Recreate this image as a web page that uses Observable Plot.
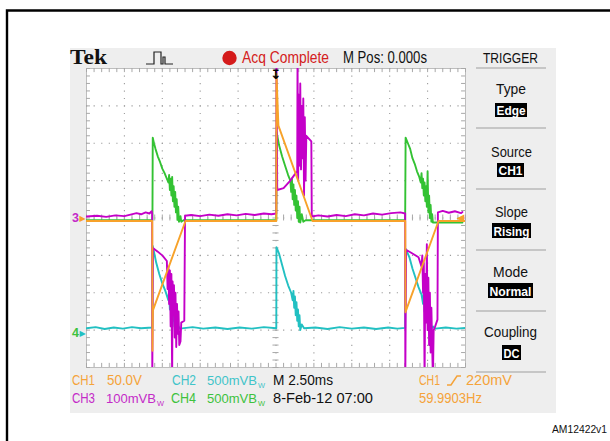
<!DOCTYPE html>
<html>
<head>
<meta charset="utf-8">
<script src="https://cdn.jsdelivr.net/npm/d3@7"></script>
<script src="https://cdn.jsdelivr.net/npm/@observablehq/plot@0.6"></script>
<style>
  html, body { margin: 0; padding: 0; background: white; }
  #c { position: relative; width: 610px; height: 441px; overflow: hidden; background: white; }
</style>
</head>
<body>
<div id="c"></div>
<script>
// ---- Data: time in ms (2.50 ms/div, trigger at 0), value in screen divisions ----
const ch1 = [ // orange
  [-12.5,-0.08],[-8.16,-0.08],[-8.15,-3.55],[-8.12,-2.47],[-5.97,-0.08],[0.02,-0.08],
  [0.03,3.86],[0.16,2.47],[2.41,-0.08],[8.53,-0.08],[8.54,-2.52],[10.72,-0.08],[12.5,-0.08]
];
const ch2 = [ // cyan
  [-12.5,-2.95],[-11.9,-2.92],[-11.3,-2.97],[-10.7,-2.93],[-10.1,-2.96],[-9.5,-2.92],[-8.9,-2.95],[-8.16,-2.93],
  [-8.13,-0.75],[-8.05,-0.9],[-7.9,-1.2],[-7.7,-1.5],[-7.5,-1.75],[-7.3,-1.95],[-7.1,-2.2],[-7.05,-1.95],
  [-7.0,-2.45],[-6.95,-2.1],[-6.9,-2.6],[-6.85,-2.25],[-6.8,-2.75],[-6.75,-2.4],[-6.7,-2.9],[-6.65,-2.55],
  [-6.6,-3.0],[-6.5,-2.85],[-6.35,-2.96],[-5.5,-2.92],[-4.8,-2.96],[-4.0,-2.93],[-3.2,-2.97],[-2.4,-2.93],
  [-1.6,-2.96],[-0.8,-2.92],[0.02,-2.95],
  [0.03,-0.78],[0.2,-0.95],[0.4,-1.25],[0.6,-1.55],[0.8,-1.8],[1.0,-2.0],[1.1,-2.2],[1.15,-1.95],
  [1.2,-2.4],[1.25,-2.1],[1.3,-2.6],[1.35,-2.25],[1.4,-2.75],[1.45,-2.45],[1.5,-2.9],[1.55,-2.6],
  [1.6,-3.0],[1.7,-2.85],[1.85,-2.95],[2.6,-2.93],[3.4,-2.97],[4.2,-2.92],[5.0,-2.96],[5.8,-2.93],
  [6.6,-2.97],[7.4,-2.93],[8.0,-2.96],[8.52,-2.94],
  [8.55,-0.82],[8.8,-1.05],[9.0,-1.35],[9.2,-1.6],[9.4,-1.85],[9.6,-2.05],[9.7,-2.3],[9.75,-2.0],
  [9.8,-2.5],[9.85,-2.2],[9.9,-2.65],[9.95,-2.35],[10.0,-2.8],[10.05,-2.5],[10.1,-2.95],[10.15,-2.65],
  [10.2,-3.0],[10.35,-2.9],[10.5,-2.96],[11.2,-2.93],[11.9,-2.96],[12.5,-2.94]
];
const ch3 = [ // magenta
  [-12.5,0.04],[-11.8,0.06],[-11.2,0.03],[-10.6,0.07],[-10.0,0.05],[-9.6,0.09],[-9.2,0.13],[-8.9,0.1],
  [-8.6,0.15],[-8.35,0.12],[-8.2,0.18],[-8.17,0.12],
  [-8.16,-4.3],[-8.12,-0.8],[-7.8,-0.9],[-7.5,-1.0],[-7.2,-1.15],
  [-7.15,-1.9],[-7.1,-1.3],[-7.05,-2.3],[-7.0,-1.4],[-6.95,-2.9],[-6.9,-1.5],[-6.85,-4.3],[-6.82,-1.7],
  [-6.78,-2.6],[-6.73,-1.8],[-6.68,-3.2],[-6.63,-2.0],[-6.58,-3.45],[-6.53,-2.3],[-6.48,-3.1],[-6.43,-2.5],
  [-6.38,-3.4],[-6.3,-3.3],[-6.25,-2.8],[-6.05,-2.75],[-6.0,0.06],
  [-5.6,0.08],[-5.0,0.05],[-4.4,0.09],[-3.8,0.06],[-3.2,0.1],[-2.6,0.07],[-2.0,0.11],[-1.4,0.08],
  [-0.8,0.12],[-0.3,0.1],[0.02,0.12],
  [0.03,4.3],[0.08,0.75],[0.5,0.8],[0.9,0.98],[1.3,1.2],[1.4,1.25],
  [1.42,4.3],[1.46,1.0],[1.5,3.3],[1.55,1.4],[1.6,3.6],[1.65,1.3],[1.7,3.0],[1.75,1.6],[1.8,3.2],
  [1.85,0.6],[1.9,2.7],[1.95,1.0],[2.0,2.2],[2.33,2.05],[2.36,0.04],
  [2.8,0.07],[3.4,0.04],[4.0,0.08],[4.6,0.05],[5.2,0.1],[5.8,0.07],[6.4,0.12],[7.0,0.09],[7.6,0.13],
  [8.2,0.15],[8.52,0.12],
  [8.53,-4.3],[8.58,-0.85],[9.0,-0.95],[9.4,-1.05],[9.6,-1.3],
  [9.65,-1.0],[9.7,-2.0],[9.75,-1.2],[9.8,-4.3],[9.85,-1.5],[9.9,-2.8],[9.95,-0.7],[10.0,-3.0],
  [10.05,-1.6],[10.1,-3.4],[10.15,-2.0],[10.2,-3.6],[10.25,-2.4],[10.3,-3.4],[10.35,-4.3],[10.4,-3.0],
  [10.5,-2.9],[10.65,-2.72],[10.68,0.15],[11.0,0.19],[11.4,0.14],[11.8,0.18],[12.2,0.13],[12.3,0.16]
];
const ch4 = [ // green
  [-12.5,-0.06],[-8.15,-0.06],[-8.13,2.15],[-8.05,2.0],[-7.95,1.85],[-7.8,1.65],[-7.65,1.5],[-7.5,1.32],
  [-7.35,1.2],[-7.2,1.05],[-7.1,0.95],[-7.05,1.15],[-7.0,0.75],[-6.95,1.05],[-6.9,0.6],[-6.85,1.1],
  [-6.8,0.45],[-6.75,0.85],[-6.7,0.3],[-6.65,0.7],[-6.6,0.15],[-6.55,0.5],[-6.5,-0.05],[-6.45,0.3],
  [-6.4,-0.1],[-6.3,0.05],[-6.25,-0.1],[-6.1,-0.06],[0.02,-0.06],
  [0.04,2.3],[0.2,1.95],[0.4,1.65],[0.6,1.4],[0.8,1.15],[0.95,1.0],[1.0,0.7],[1.05,1.05],[1.1,0.5],
  [1.15,0.9],[1.2,0.35],[1.25,0.75],[1.3,0.2],[1.35,0.6],[1.4,0.0],[1.45,0.45],[1.5,-0.1],[1.55,0.3],
  [1.6,-0.12],[1.7,0.1],[1.8,-0.1],[1.95,-0.06],[8.52,-0.06],
  [8.55,2.15],[8.7,2.0],[8.85,1.85],[9.0,1.6],[9.15,1.45],[9.3,1.25],[9.45,1.1],[9.55,0.95],[9.6,1.2],
  [9.65,0.8],[9.7,1.05],[9.75,0.6],[9.8,0.95],[9.85,0.45],[9.9,0.85],[9.95,0.3],[10.0,1.25],[10.05,0.15],
  [10.1,0.6],[10.15,0.0],[10.2,0.35],[10.25,-0.1],[10.3,0.1],[10.35,-0.12],[12.3,-0.12]
];
const groundCh3 = 0;      // "3" marker level (div)
const groundCh4 = -3.08;  // "4" marker level (div)
const triggerLevel = 0;   // CH1 trigger level marker (div)
const triggerPos = 0;     // trigger time (ms)

const C = {
  orange: "#f7a22a", cyan: "#22c0c2", magenta: "#c400c8", green: "#33c233",
  tOrange: "#f5a33a", tCyan: "#3fc4c9", tMagenta: "#c42ac8", tGreen: "#3dc23d"
};

const rows = a => a.map(([t, v]) => ({t, v}));
const container = document.getElementById("c");

// ---------- decoration (screen bezel, labels) ----------
const deco = d3.create("svg").attr("width", 610).attr("height", 441)
  .style("position", "absolute").style("left", "0px").style("top", "0px");
deco.append("path").attr("d", "M7,441V10.5H610").attr("fill", "none").attr("stroke", "black").attr("stroke-width", 2.4);
deco.append("rect").attr("x", 70).attr("y", 48).attr("width", 486).attr("height", 365).attr("fill", "#eeeeee");

const SANS = "'Liberation Sans', Arial, sans-serif";
function txt(s, x, y, w, size, color, extra = {}) {
  const t = deco.append("text").attr("x", x).attr("y", y).text(s)
    .attr("font-family", extra.family || SANS).attr("font-size", size).attr("fill", color);
  if (w) t.attr("textLength", w).attr("lengthAdjust", "spacingAndGlyphs");
  if (extra.weight) t.attr("font-weight", extra.weight);
  return t;
}
// value with bandwidth-limit symbol (B with subscript W)
function bwTxt(s, x, y, w, color) {
  txt(s + "B", x, y, w - 8, 13, color);
  txt("W", x + w - 7, y + 3, 7, 8, color);
}
// header
txt("Tek", 70, 64, 37, 20, "#111", {family: "'Liberation Serif', 'DejaVu Serif', serif", weight: "bold"});
deco.append("path").attr("d", "M146,64H154V52H161V64H163V57H165V64H173").attr("fill", "none").attr("stroke", "#222").attr("stroke-width", 1.2);
deco.append("circle").attr("cx", 229.5).attr("cy", 58).attr("r", 7.2).attr("fill", "#d41a1a");
txt("Acq Complete", 242, 63, 87, 15.6, "#d42020");
txt("M Pos: 0.000s", 343, 63, 84, 15.6, "#111");

// trigger side panel
txt("TRIGGER", 483, 63, 55, 14.5, "#111");
[68, 128, 189, 250, 311, 372].forEach(y =>
  deco.append("line").attr("x1", 476).attr("x2", 546).attr("y1", y).attr("y2", y).attr("stroke", "#b9b9b9").attr("stroke-width", 1.6));
const panel = [
  ["Type", 496, 94, 30, "Edge", 495, 103, 32, 14],
  ["Source", 491, 156.5, 41, "CH1", 497, 163, 27, 14],
  ["Slope", 495, 217, 33, "Rising", 492, 223, 39, 15],
  ["Mode", 493, 277, 35, "Normal", 488, 283, 45, 15],
  ["Coupling", 484, 337, 53, "DC", 502, 345, 19, 15]
];
panel.forEach(([lab, lx, ly, lw, val, bx, by, bw, bh]) => {
  txt(lab, lx, ly, lw, 15.5, "#111");
  deco.append("rect").attr("x", bx).attr("y", by).attr("width", bw).attr("height", bh).attr("fill", "#000");
  txt(val, bx + 1.5, by + bh - 2.5, bw - 3, 13.5, "#fff", {weight: "bold"});
});

// bottom status lines
txt("CH1", 72, 385, 23, 14, C.tOrange);
txt("50.0V", 107, 385, 35, 14, C.tOrange);
txt("CH2", 172, 385, 24, 14, C.tCyan);
bwTxt("500mV", 207, 385, 58, C.tCyan);
txt("M 2.50ms", 273, 385, 60, 14, "#111");
txt("CH1", 419, 385, 21, 14, C.tOrange);
deco.append("path").attr("d", "M447,385H451L457,376H461").attr("fill", "none").attr("stroke", C.tOrange).attr("stroke-width", 1.5);
txt("220mV", 466, 385, 46, 14, C.tOrange);
txt("CH3", 72, 403, 23, 14, C.tMagenta);
bwTxt("100mV", 106, 403, 58, C.tMagenta);
txt("CH4", 171, 403, 25, 14, C.tGreen);
bwTxt("500mV", 207, 403, 58, C.tGreen);
txt("8-Feb-12 07:00", 273, 403, 100, 14, "#111");
txt("59.9903Hz", 419, 403, 63, 14, C.tOrange);
txt("AM12422v1", 552, 433, 55, 10.5, "#111");

container.appendChild(deco.node());

// ---------- the scope graticule + traces ----------
const majorX = d3.range(-10, 10.01, 2.5);
const majorY = d3.range(-3, 3.01, 1);
const minorX = d3.range(-12.5, 12.51, 0.5);
const minorY = d3.range(-4, 4.01, 0.2);
const tick = "#a8a8a8";
const lw = 1.9;

const plot = Plot.plot({
  width: 610, height: 441,
  marginLeft: 86, marginRight: 145, marginTop: 68, marginBottom: 74,
  x: {domain: [-12.5, 12.5], axis: null},
  y: {domain: [-4, 4], axis: null},
  style: {background: "transparent", position: "absolute", left: "0px", top: "0px", overflow: "visible"},
  marks: [
    Plot.frame({fill: "white", stroke: "#bdbdbd"}),
    Plot.ruleX(majorX, {stroke: "#9c9c9c", strokeWidth: 1.1, strokeDasharray: "1.2 6.28"}),
    Plot.ruleY(majorY, {stroke: "#9c9c9c", strokeWidth: 1.1, strokeDasharray: "1.2 6.38"}),
    Plot.ruleX(minorX, {y1: 4, y2: 3.89, stroke: tick}),
    Plot.ruleX(minorX, {y1: -4, y2: -3.89, stroke: tick}),
    Plot.ruleX(minorX, {y1: -0.08, y2: 0.08, stroke: tick}),
    Plot.ruleY(minorY, {x1: -12.5, x2: -12.24, stroke: tick}),
    Plot.ruleY(minorY, {x1: 12.5, x2: 12.24, stroke: tick}),
    Plot.ruleY(minorY, {x1: -0.2, x2: 0.2, stroke: tick}),
    Plot.line(rows(ch2), {x: "t", y: "v", stroke: C.cyan, strokeWidth: lw, clip: true}),
    Plot.line(rows(ch4), {x: "t", y: "v", stroke: C.green, strokeWidth: lw, clip: true}),
    Plot.line(rows(ch3), {x: "t", y: "v", stroke: C.magenta, strokeWidth: lw, clip: true}),
    Plot.line(rows(ch1), {x: "t", y: "v", stroke: C.orange, strokeWidth: lw, clip: true}),
    // ground markers at left edge
    Plot.text([groundCh3], {x: -12.5, y: d => d, text: () => "3", dx: -11, fill: C.tMagenta, fontSize: 12.5, fontWeight: "bold", fontFamily: SANS}),
    Plot.text([groundCh3], {x: -12.5, y: d => d, text: () => "▶", dx: -4, fill: C.orange, fontSize: 8, fontFamily: "DejaVu Sans"}),
    Plot.text([groundCh4], {x: -12.5, y: d => d, text: () => "4", dx: -11, fill: C.tGreen, fontSize: 12.5, fontWeight: "bold", fontFamily: SANS}),
    Plot.text([groundCh4], {x: -12.5, y: d => d, text: () => "▶", dx: -4, fill: C.cyan, fontSize: 8, fontFamily: "DejaVu Sans"}),
    // trigger level and position markers
    Plot.text([triggerLevel], {x: 12.5, y: d => d, text: () => "◀", dx: -5, fill: C.orange, fontSize: 10, fontFamily: "DejaVu Sans"}),
    Plot.text([triggerPos], {x: d => d, y: 4, text: () => "↧", dy: 6, fill: "#000", fontSize: 13, fontWeight: "bold", fontFamily: "DejaVu Sans"})
  ]
});
container.appendChild(plot);
</script>
</body>
</html>
